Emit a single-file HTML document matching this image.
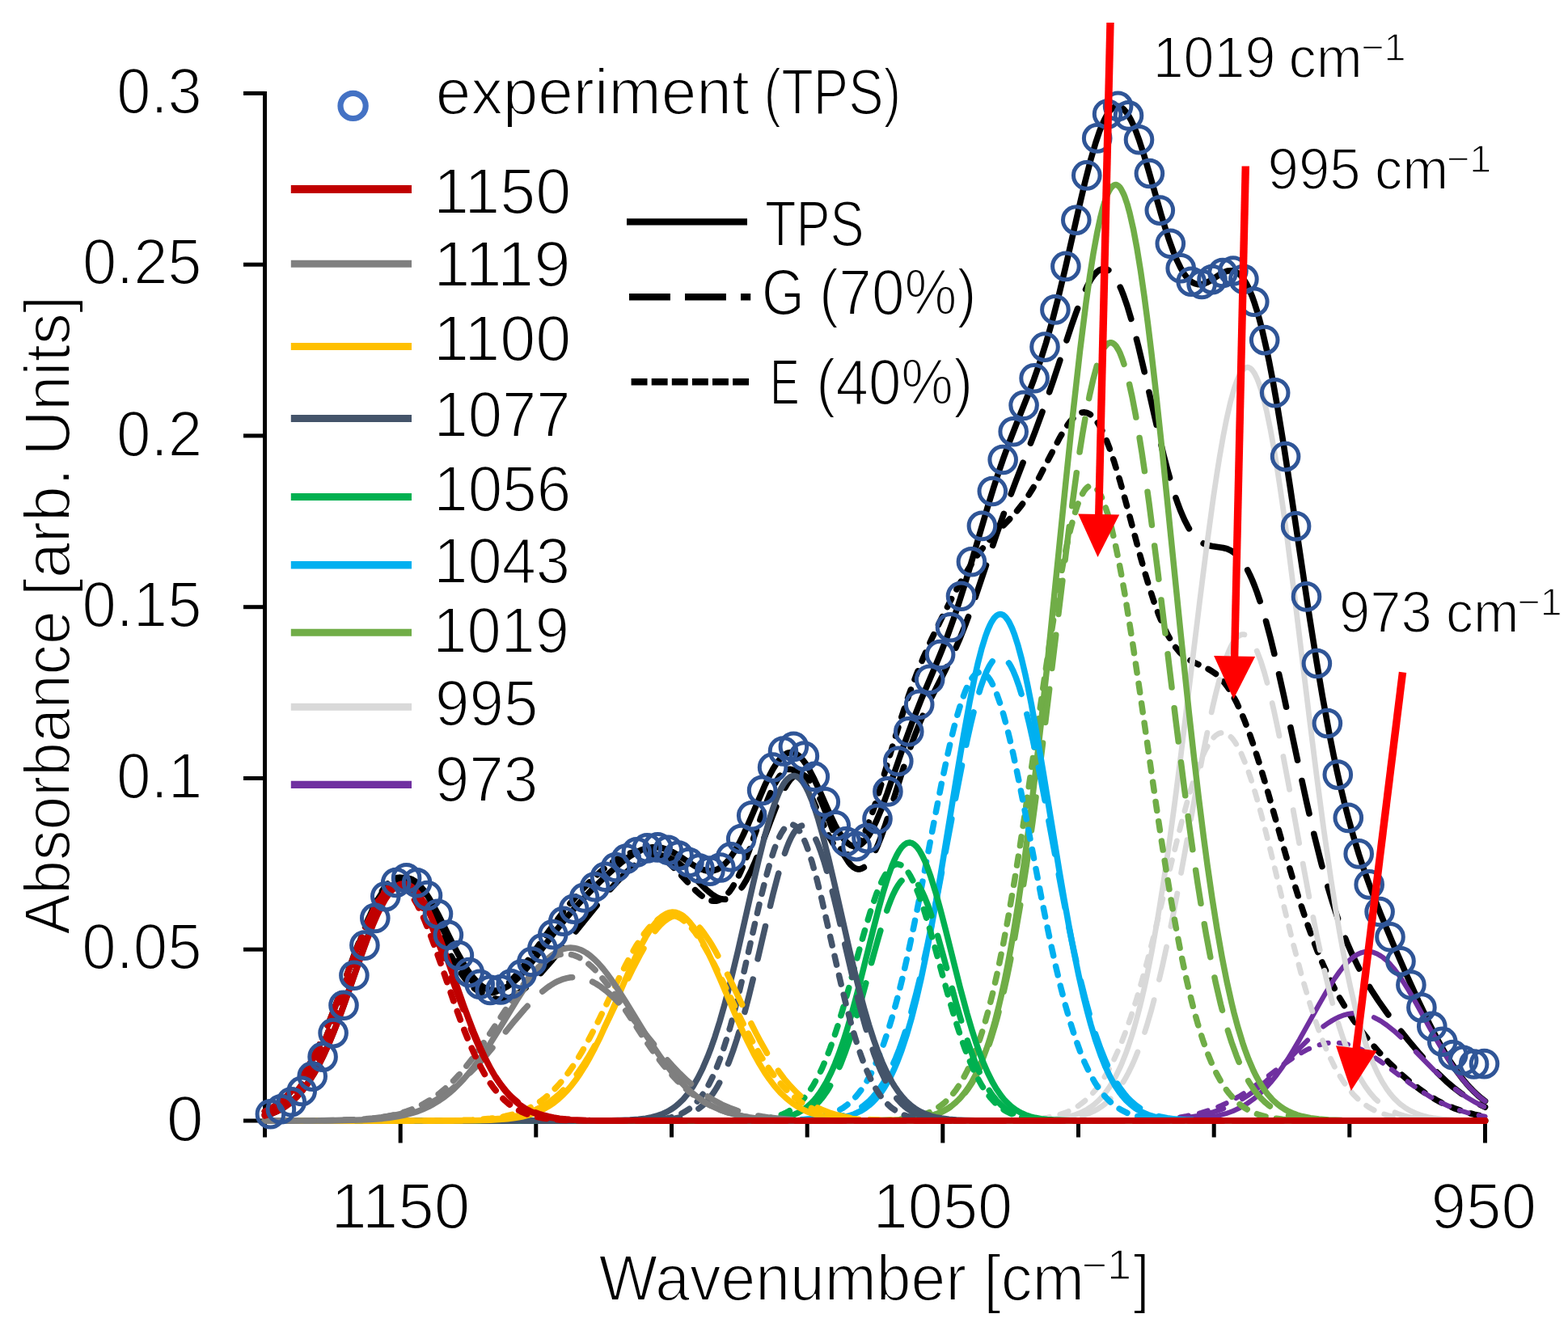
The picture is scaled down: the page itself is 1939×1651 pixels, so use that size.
<!DOCTYPE html>
<html lang="en"><head><meta charset="utf-8"><title>FTIR band decomposition</title>
<style>html,body{margin:0;padding:0;background:#fff}svg{display:block}</style></head>
<body>
<svg width="1939" height="1651" viewBox="0 0 1939 1651">
<rect width="1939" height="1651" fill="#fff"/>
<g stroke="#000" stroke-width="5" fill="none">
<path d="M327.5 112.9V1406.5"/>
<path d="M301 1386H1839"/>
<path d="M301 115.4H327.5"/>
<path d="M301 327.2H327.5"/>
<path d="M301 538.9H327.5"/>
<path d="M301 750.7H327.5"/>
<path d="M301 962.5H327.5"/>
<path d="M301 1174.2H327.5"/>
<path d="M495.2 1386V1413.5"/>
<path d="M662.8 1386V1406.5"/>
<path d="M830.5 1386V1406.5"/>
<path d="M998.2 1386V1406.5"/>
<path d="M1165.8 1386V1413.5"/>
<path d="M1333.5 1386V1406.5"/>
<path d="M1501.2 1386V1406.5"/>
<path d="M1668.8 1386V1406.5"/>
<path d="M1836.5 1386V1413.5"/>
</g>
<g fill="none" stroke-linecap="round" stroke-linejoin="round" stroke-width="7.5">
<g stroke="#000" stroke-width="7.6">
<path d="M327.5 1379.9L336.5 1376.9L341 1375L345.5 1372.8L353 1368.2L357.5 1365L360.5 1362.5L365 1358.4L368 1355.3L372.5 1350.3L375.5 1346.6L380 1340.5L383 1336.1L389 1326.4L395 1315.4L401 1303.2L407 1289.8L414.5 1271.4L420.5 1255.7L426.5 1239.1L446 1182.9L453.5 1161.9L461 1142.3L467 1128.1L471.5 1118.5L474.5 1112.7L479 1104.9L482 1100.4L486.5 1094.7L489.5 1091.7L492.5 1089.3L495.5 1087.5L498.5 1086.4L501.5 1085.9L504.5 1086L507.5 1086.8L510.5 1088.1L513.5 1090L516.5 1092.5L521 1097.3L524 1101L527 1105.2L530 1109.8L534.5 1117.4L542 1131.3L558.5 1164.5L566 1179L573.5 1192.2L578 1199.3L581 1203.6L585.5 1209.4L590 1214.3L594.5 1218.4L597.5 1220.5L600.5 1222.3L605 1224.1L609.5 1225L614 1225L617 1224.5L620 1223.6L623 1222.4L627.5 1220L633.5 1215.7L636.5 1213.1L641 1208.9L648.5 1200.8L656 1191.8L663.5 1182.3L686 1152.8L698 1137.8L710 1123.8L722 1110.7L731 1101.3L741.5 1090.9L750.5 1082.3L759.5 1074.2L767 1067.8L774.5 1062L780.5 1057.9L786.5 1054.3L791 1052.1L794 1050.8L798.5 1049.3L801.5 1048.6L806 1047.9L809 1047.7L812 1047.8L816.5 1048.3L819.5 1049L824 1050.3L827 1051.5L831.5 1053.6L839 1057.9L854 1067.8L860 1071.4L866 1074.4L870.5 1076L873.5 1076.7L876.5 1077.1L879.5 1077L882.5 1076.6L885.5 1075.7L888.5 1074.4L893 1071.4L897.5 1067.3L900.5 1064L903.5 1060.1L908 1053.4L914 1042.9L918.5 1033.9L924.5 1020.9L945.5 971.9L951.5 959.3L956 950.9L960.5 943.8L965 938L968 935.1L969.5 933.8L972.5 932L974 931.3L977 930.6L978.5 930.5L981.5 931L984.5 932.3L987.5 934.3L990.5 937.1L993.5 940.6L996.5 944.8L1001 952.2L1007 963.8L1013 976.8L1026.5 1007.5L1032.5 1020L1035.5 1025.6L1038.5 1030.7L1041.5 1035.2L1044.5 1039L1047.5 1042.1L1049 1043.4L1052 1045.4L1055 1046.5L1058 1046.7L1061 1046.1L1064 1044.7L1067 1042.3L1070 1039.2L1074.5 1033L1079 1025.2L1083.5 1015.9L1089.5 1001.6L1097 981.5L1118 920.8L1128.5 892.1L1139 865.6L1157 823L1164.5 804.8L1172 785.4L1179.5 764.5L1185.5 746.6L1193 722.8L1200.5 697.9L1221.5 626.4L1229 602.1L1235 583.7L1241 566.3L1248.5 545.9L1256 526.6L1271 489L1278.5 469.3L1286 447.8L1293.5 424.1L1301 397.8L1308.5 368.8L1317.5 331.1L1334 258.1L1341.5 226.1L1349 196.7L1355 176.2L1359.5 162.9L1362.5 155.2L1365.5 148.5L1368.5 142.8L1371.5 138.3L1373 136.4L1376 133.6L1377.5 132.6L1379 131.9L1380.5 131.5L1382 131.3L1383.5 131.5L1385 131.9L1386.5 132.7L1389.5 135L1392.5 138.4L1395.5 142.9L1398.5 148.4L1401.5 154.7L1404.5 162L1409 174.3L1415 192.8L1421 213.1L1436 265.7L1440.5 280.7L1445 294.7L1451 311.4L1455.5 322.2L1460 331.4L1464.5 338.9L1466 341L1469 344.6L1470.5 346.1L1473.5 348.6L1475 349.5L1478 350.9L1481 351.6L1484 351.8L1485.5 351.6L1488.5 350.9L1493 349.1L1497.5 346.6L1509.5 338.8L1512.5 337.2L1515.5 335.9L1518.5 335L1521.5 334.7L1524.5 334.9L1526 335.3L1529 336.5L1532 338.6L1535 341.6L1538 345.4L1541 350.3L1544 356.1L1548.5 366.8L1551.5 375.3L1554.5 384.8L1557.5 395.3L1560.5 406.9L1566.5 433.1L1569.5 447.6L1574 471L1580 504.9L1587.5 550.9L1595 599.8L1619 760.8L1628 817.7L1635.5 862L1644.5 910.8L1649 933.2L1653.5 954.4L1658 974.3L1662.5 992.9L1667 1010.4L1673 1032.1L1680.5 1056.9L1688 1079.4L1697 1104.2L1707.5 1131L1721 1163.4L1739 1204.8L1754 1237.9L1767.5 1266L1776.5 1283.5L1785.5 1299.7L1794.5 1314.4L1802 1325.5L1809.5 1335.4L1814 1340.7L1818.5 1345.7L1823 1350.3L1827.5 1354.5L1832 1358.3L1836.5 1361.7"/>
<path d="M327.5 1374.5L335 1370.7L342.5 1365.9L350 1359.9L356 1354.2L360.5 1349.3L363.5 1345.8L369.5 1337.8L375.5 1328.9L381.5 1318.8L387.5 1307.6L393.5 1295.3L399.5 1281.9L405.5 1267.6L411.5 1252.5L417.5 1236.7L437 1183.3L444.5 1163.3L452 1144.5L459.5 1127.5L464 1118.4L468.5 1110.2L473 1103.1L476 1099L480.5 1093.8L483.5 1091L488 1087.8L491 1086.4L494 1085.6L495.5 1085.5L498.5 1085.5L501.5 1086.1L503 1086.6L506 1088L509 1090L513.5 1093.8L516.5 1097L521 1102.6L524 1106.8L528.5 1113.7L536 1126.7L543.5 1140.9L561.5 1176.2L570.5 1192.6L575 1200L579.5 1206.9L584 1213.1L588.5 1218.7L593 1223.5L596 1226.2L600.5 1229.7L603.5 1231.6L606.5 1233.1L611 1234.8L615.5 1235.7L620 1235.9L624.5 1235.4L629 1234.2L633.5 1232.5L638 1230.1L642.5 1227.3L648.5 1222.9L653 1219.1L659 1213.5L669.5 1202.6L683 1187.2L698 1169.1L741.5 1115.4L753.5 1101.2L762.5 1091.1L773 1080.3L777.5 1076.1L782 1072.2L786.5 1068.7L791 1065.6L795.5 1063L798.5 1061.6L803 1059.8L806 1058.9L810.5 1058.1L813.5 1057.9L818 1058.1L821 1058.6L824 1059.4L828.5 1061.1L831.5 1062.5L836 1065.2L840.5 1068.4L845 1072.1L852.5 1079.1L872 1098.8L878 1104.1L881 1106.4L884 1108.3L887 1110L890 1111.2L893 1111.9L896 1112.2L899 1111.9L902 1111.1L905 1109.7L908 1107.7L912.5 1103.5L915.5 1099.9L918.5 1095.7L923 1088.3L929 1076.4L933.5 1066.2L938 1055.1L954.5 1011.1L959 999.6L965 985.5L969.5 976.3L974 968.7L977 964.6L978.5 962.9L981.5 960L983 959L986 957.5L989 957.1L990.5 957.2L993.5 958.2L996.5 960.1L998 961.4L1001 964.7L1004 968.8L1007 973.7L1011.5 982.4L1016 992.2L1020.5 1003L1032.5 1033.1L1038.5 1047L1041.5 1053.2L1044.5 1058.8L1049 1065.8L1052 1069.5L1055 1072.2L1058 1074L1059.5 1074.6L1061 1074.9L1062.5 1074.9L1064 1074.7L1065.5 1074.2L1068.5 1072.5L1071.5 1069.8L1073 1068.1L1076 1063.9L1080.5 1056L1085 1046.3L1089.5 1035.1L1094 1022.6L1098.5 1009.1L1115 956.7L1122.5 933.8L1130 912.7L1137.5 893.6L1143.5 879.8L1149.5 867L1169 828.8L1178 810.2L1187 789.7L1194.5 770.8L1200.5 754.6L1206.5 737.6L1232 661.8L1244 627.6L1256 595.6L1280 533.9L1292 501.2L1302.5 470.7L1325 402.8L1331 385.8L1335.5 374L1340 363.3L1344.5 353.8L1349 345.7L1352 341.3L1355 337.8L1356.5 336.3L1359.5 334L1362.5 332.7L1364 332.4L1365.5 332.3L1367 332.5L1368.5 332.9L1370 333.6L1373 335.7L1376 338.9L1379 343.1L1382 348.3L1386.5 357.9L1389.5 365.5L1394 378.5L1400 398.6L1407.5 427.4L1415 459L1433 538L1439 562.8L1443.5 580.1L1449.5 601.4L1454 615.6L1457 624.2L1460 632.1L1464.5 642.5L1469 651.3L1472 656.2L1475 660.5L1479.5 665.7L1482.5 668.4L1485.5 670.6L1490 673L1494.5 674.5L1499 675.5L1512.5 677.5L1515.5 678.2L1518.5 679.2L1521.5 680.6L1524.5 682.4L1527.5 684.6L1530.5 687.4L1533.5 690.8L1536.5 694.7L1539.5 699.4L1542.5 704.6L1545.5 710.6L1548.5 717.3L1551.5 724.7L1554.5 732.8L1559 746.1L1565 766.3L1571 788.8L1577 813.3L1587.5 860L1607 951.8L1616 993.1L1625 1032.1L1634 1068L1638.5 1084.6L1643 1100.3L1647.5 1115.1L1652 1128.9L1656.5 1141.9L1661 1153.9L1665.5 1165.2L1671.5 1179L1679 1194.6L1686.5 1208.7L1695.5 1223.8L1704.5 1237.6L1715 1252.5L1728.5 1270.3L1742 1287.1L1755.5 1303.1L1767.5 1316.5L1778 1327.3L1788.5 1337.3L1797.5 1345L1808 1353L1817 1358.9L1826 1364.1L1836.5 1369.2" stroke-dasharray="41.5 25.9"/>
<path d="M327.5 1378.3L332 1376.7L336.5 1374.7L344 1370.6L348.5 1367.5L351.5 1365.3L356 1361.5L359 1358.6L363.5 1353.9L366.5 1350.4L372.5 1342.6L378.5 1333.5L384.5 1323.2L390.5 1311.6L396.5 1298.7L402.5 1284.6L408.5 1269.3L419 1240.3L438.5 1182.9L446 1161.4L453.5 1141.4L459.5 1126.9L464 1117.2L467 1111.3L471.5 1103.5L474.5 1099L479 1093.4L482 1090.5L485 1088.2L488 1086.6L491 1085.6L494 1085.3L497 1085.7L500 1086.7L503 1088.3L506 1090.5L509 1093.3L512 1096.6L515 1100.4L518 1104.7L521 1109.4L525.5 1117.2L534.5 1134.6L549.5 1165.8L557 1180.7L564.5 1194.4L569 1201.7L572 1206.2L576.5 1212.2L581 1217.3L585.5 1221.5L588.5 1223.7L591.5 1225.6L596 1227.5L600.5 1228.5L605 1228.6L608 1228.1L612.5 1226.8L615.5 1225.4L620 1222.8L623 1220.6L627.5 1216.9L632 1212.6L636.5 1207.8L644 1199L651.5 1189.3L681.5 1147.7L696.5 1127.8L705.5 1116.7L713 1107.9L720.5 1099.6L728 1091.8L735.5 1084.4L741.5 1079L747.5 1073.9L753.5 1069.2L759.5 1064.9L764 1062.1L770 1058.8L774.5 1056.7L779 1055L783.5 1053.8L788 1052.9L792.5 1052.6L797 1052.7L801.5 1053.4L806 1054.6L810.5 1056.4L815 1058.6L819.5 1061.5L824 1064.8L828.5 1068.6L837.5 1077.2L854 1095L860 1101.1L866 1106.5L870.5 1109.8L873.5 1111.6L876.5 1113L879.5 1113.9L882.5 1114.3L885.5 1114.2L888.5 1113.5L891.5 1112.3L894.5 1110.4L897.5 1107.8L899 1106.3L902 1102.7L905 1098.5L909.5 1091L912.5 1085.3L915.5 1078.9L920 1068.5L926 1053L941 1010.9L947 994.7L951.5 983.6L956 973.7L960.5 965.3L963.5 960.7L965 958.8L968 955.5L969.5 954.2L972.5 952.3L975.5 951.4L977 951.3L978.5 951.5L981.5 952.6L983 953.4L986 955.9L989 959.2L992 963.3L996.5 970.9L1002.5 983L1017.5 1017.7L1023.5 1030.8L1026.5 1036.7L1029.5 1042L1034 1048.7L1037 1052.1L1040 1054.7L1043 1056.4L1044.5 1056.8L1046 1057.1L1047.5 1057.1L1049 1056.8L1052 1055.5L1055 1053.3L1056.5 1051.8L1059.5 1048.1L1062.5 1043.5L1065.5 1038L1070 1028.3L1076 1012.9L1080.5 999.9L1086.5 981L1106 915.3L1115 886.2L1124 859.3L1133 835L1142 812.8L1152.5 789.3L1164.5 764.4L1176.5 740.8L1185.5 724.1L1194.5 708.5L1203.5 694.1L1211 683.4L1218.5 673.8L1226 665.1L1232 658.8L1248.5 642L1256 633.8L1263.5 624.5L1271 613.9L1277 604.4L1284.5 591.3L1310 542.2L1316 531.9L1320.5 525.1L1323.5 521.1L1326.5 517.7L1331 513.6L1334 511.6L1335.5 510.9L1338.5 510.1L1340 509.9L1343 510.2L1344.5 510.6L1347.5 512.1L1350.5 514.4L1352 515.8L1355 519.3L1358 523.7L1362.5 531.7L1367 541.4L1371.5 552.8L1377.5 570.2L1385 594.9L1392.5 621.9L1410.5 689.3L1416.5 710.5L1421 725.6L1427 744.1L1433 760.6L1439 774.9L1443.5 784.1L1448 792.1L1451 796.8L1454 800.9L1458.5 806.2L1461.5 809.2L1464.5 811.8L1469 815L1473.5 817.7L1478 819.9L1491.5 826L1497.5 829.3L1503.5 833.5L1506.5 836.1L1509.5 839L1514 844.2L1517 848.1L1520 852.5L1523 857.3L1529 868.4L1535 881.4L1539.5 892.3L1545.5 908.3L1550 921.3L1556 939.8L1566.5 974.7L1589 1053.8L1598 1084.5L1607 1113.7L1616 1140.8L1625 1165.6L1629.5 1177.1L1635.5 1191.4L1640 1201.5L1646 1214.1L1650.5 1222.9L1656.5 1233.9L1665.5 1249L1674.5 1262.6L1683.5 1274.9L1694 1288.1L1706 1301.9L1718 1314.5L1731.5 1327.4L1743.5 1337.8L1755.5 1347L1766 1354.2L1776.5 1360.5L1782.5 1363.7L1788.5 1366.5L1799 1370.9L1811 1375L1823 1378.2L1836.5 1380.8" stroke-dasharray="11.1 13.5"/>
</g>
<g stroke="#7030A0" stroke-width="6.2">
<path d="M327.5 1386L1409 1385.9L1440.5 1385.7L1463 1385L1479.5 1383.9L1487 1383.2L1494.5 1382.1L1505 1380.1L1515.5 1377.3L1524.5 1374.1L1533.5 1369.9L1538 1367.4L1542.5 1364.6L1550 1359.3L1557.5 1352.9L1565 1345.6L1571 1339L1578.5 1329.7L1586 1319.4L1593.5 1308.1L1599.5 1298.4L1607 1285.6L1631 1242.4L1640 1226.8L1649 1212.3L1656.5 1201.6L1661 1195.9L1665.5 1190.9L1670 1186.5L1674.5 1182.9L1679 1180.1L1683.5 1178.2L1688 1177L1691 1176.8L1694 1176.9L1698.5 1177.8L1703 1179.6L1707.5 1182.2L1710.5 1184.3L1715 1188.2L1719.5 1192.9L1724 1198.2L1728.5 1204.1L1733 1210.6L1742 1224.9L1751 1240.4L1769 1273L1778 1288.8L1787 1303.9L1796 1317.7L1802 1326.2L1806.5 1332.1L1811 1337.6L1815.5 1342.8L1820 1347.5L1826 1353.3L1830.5 1357.2L1836.5 1361.8"/>
<path d="M327.5 1386L1364 1386L1398.5 1385.8L1422.5 1385.3L1442 1384.5L1458.5 1383.2L1470.5 1381.8L1481 1380.1L1491.5 1377.8L1500.5 1375.3L1509.5 1372.3L1518.5 1368.6L1527.5 1364.2L1535 1360L1542.5 1355.2L1550 1349.9L1557.5 1344.1L1566.5 1336.4L1574 1329.6L1581.5 1322.3L1608.5 1294.9L1619 1284.6L1628 1276.4L1637 1269L1643 1264.8L1647.5 1262L1652 1259.5L1656.5 1257.4L1662.5 1255.2L1667 1254L1671.5 1253.3L1676 1253L1680.5 1253.2L1685 1253.7L1689.5 1254.7L1695.5 1256.7L1700 1258.7L1704.5 1261L1709 1263.7L1715 1267.9L1724 1275L1733 1283.1L1743.5 1293.3L1773.5 1323.7L1784 1333.6L1793 1341.5L1803.5 1349.8L1814 1357.1L1824.5 1363.3L1830.5 1366.4L1836.5 1369.2" stroke-dasharray="41.5 25.9"/>
<path d="M327.5 1386L1343 1386L1376 1385.8L1400 1385.5L1419.5 1384.9L1436 1383.9L1446.5 1383L1457 1381.8L1467.5 1380.1L1476.5 1378.3L1485.5 1376L1494.5 1373.3L1503.5 1370.1L1511 1366.9L1518.5 1363.4L1526 1359.4L1533.5 1355.1L1542.5 1349.4L1557.5 1338.9L1583 1319.7L1592 1313.2L1601 1307L1610 1301.6L1616 1298.3L1620.5 1296.2L1625 1294.4L1629.5 1292.8L1635.5 1291.1L1640 1290.2L1644.5 1289.7L1649 1289.4L1653.5 1289.5L1658 1290L1662.5 1290.7L1668.5 1292.2L1673 1293.6L1679 1296L1683.5 1298.1L1689.5 1301.3L1698.5 1306.8L1707.5 1312.9L1716.5 1319.4L1742 1338.6L1755.5 1348.1L1769 1356.6L1776.5 1360.8L1782.5 1363.9L1794.5 1369.3L1800.5 1371.6L1808 1374.1L1814 1375.9L1821.5 1377.8L1829 1379.5L1836.5 1380.8" stroke-dasharray="11.1 13.5"/>
</g>
<g stroke="#D9D9D9" stroke-width="6.8">
<path d="M327.5 1386L1205 1386L1245.5 1385.9L1269.5 1385.7L1286 1385.2L1299.5 1384.3L1310 1383.1L1320.5 1381.2L1329.5 1378.7L1337 1375.8L1344.5 1371.9L1349 1368.9L1352 1366.7L1358 1361.5L1362.5 1356.8L1367 1351.3L1371.5 1345.1L1376 1337.8L1380.5 1329.6L1385 1320.3L1388 1313.3L1392.5 1301.9L1395.5 1293.5L1400 1279.7L1403 1269.6L1407.5 1253.2L1410.5 1241.3L1415 1222.1L1418 1208.3L1424 1178.4L1431.5 1136.5L1439 1089.7L1446.5 1038.3L1452.5 994.3L1460 936.2L1484 740.2L1491.5 680.9L1500.5 614.8L1505 584.8L1508 566L1512.5 540.1L1517 517.2L1521.5 497.5L1526 481.2L1529 472.4L1530.5 468.7L1533.5 462.4L1535 460L1536.5 457.9L1538 456.3L1539.5 455.2L1541 454.5L1542.5 454.2L1544 454.4L1545.5 455.1L1547 456.1L1548.5 457.7L1550 459.7L1551.5 462.1L1554.5 468.2L1556 471.9L1559 480.6L1562 490.9L1566.5 509.3L1571 531.1L1575.5 555.9L1578.5 574L1583 603.2L1587.5 634.6L1592 667.9L1601 738.5L1619 886.3L1628 958.2L1637 1026.1L1646 1088.3L1652 1126.3L1656.5 1152.7L1661 1177.3L1665.5 1200.2L1670 1221.2L1676 1246.6L1680.5 1263.6L1686.5 1283.8L1691 1297.2L1697 1312.8L1703 1326.2L1709 1337.5L1715 1347L1718 1351.1L1722.5 1356.6L1725.5 1359.8L1730 1364.1L1733 1366.6L1737.5 1369.8L1740.5 1371.7L1745 1374.2L1752.5 1377.5L1757 1379.1L1761.5 1380.4L1766 1381.5L1772 1382.6L1784 1384.1L1797.5 1385.1L1814 1385.6L1836.5 1385.9"/>
<path d="M327.5 1386L1209.5 1386L1272.5 1385.8L1289 1385.5L1301 1385L1313 1384.2L1322 1383.1L1331 1381.5L1338.5 1379.7L1346 1377.1L1352 1374.5L1358 1371.2L1362.5 1368.2L1367 1364.7L1371.5 1360.6L1376 1355.9L1380.5 1350.5L1385 1344.4L1388 1339.8L1392.5 1332.2L1395.5 1326.5L1400 1317.3L1403 1310.5L1407.5 1299.4L1410.5 1291.4L1415 1278.3L1418 1268.9L1424 1248.5L1431.5 1219.8L1437.5 1194.4L1445 1159.8L1451 1130.1L1458.5 1090.9L1479.5 975.5L1488.5 927.6L1496 890.7L1500.5 870.3L1503.5 857.6L1508 840.2L1512.5 824.8L1517 811.7L1520 804.3L1523 798L1524.5 795.3L1527.5 790.8L1529 789L1532 786.3L1533.5 785.4L1535 784.9L1536.5 784.6L1538 784.7L1539.5 785L1541 785.7L1542.5 786.7L1544 788L1547 791.5L1548.5 793.8L1551.5 799.1L1554.5 805.6L1559 817.4L1563.5 831.6L1568 848L1571 860L1575.5 879.5L1580 900.5L1584.5 922.9L1593.5 970.4L1611.5 1069.6L1619 1109.8L1628 1155.3L1637 1196.9L1643 1222.1L1647.5 1239.6L1652 1255.8L1656.5 1270.7L1661 1284.5L1667 1300.9L1671.5 1311.8L1677.5 1324.7L1682 1333.2L1688 1343L1694 1351.3L1700 1358.2L1706 1363.9L1709 1366.4L1713.5 1369.6L1716.5 1371.5L1721 1374L1728.5 1377.4L1736 1379.8L1745 1382L1754 1383.4L1764.5 1384.5L1776.5 1385.2L1790 1385.6L1836.5 1386" stroke-dasharray="41.5 25.9"/>
<path d="M327.5 1386L1169 1386L1233.5 1385.8L1251.5 1385.5L1265 1385.1L1275.5 1384.4L1286 1383.4L1295 1382.1L1302.5 1380.6L1310 1378.6L1317.5 1376L1323.5 1373.4L1328 1371L1332.5 1368.3L1337 1365.1L1341.5 1361.5L1346 1357.4L1350.5 1352.7L1355 1347.5L1359.5 1341.6L1362.5 1337.2L1367 1330.2L1370 1325L1374.5 1316.6L1377.5 1310.6L1385 1293.8L1391 1278.6L1398.5 1257.4L1406 1233.7L1413.5 1207.8L1419.5 1185.7L1427 1156.4L1451 1057.4L1460 1021.4L1469 988.2L1476.5 963.6L1481 950.5L1485.5 938.9L1490 928.9L1494.5 920.6L1499 914.1L1502 910.8L1503.5 909.5L1506.5 907.5L1508 906.8L1511 906.2L1514 906.4L1515.5 906.8L1518.5 908.4L1520 909.5L1523 912.3L1524.5 914.1L1527.5 918.2L1530.5 923.2L1535 932.1L1539.5 942.7L1544 954.8L1547 963.7L1551.5 978L1556 993.6L1560.5 1010.1L1571 1051.4L1590.5 1132.2L1599.5 1168.4L1610 1207.9L1619 1238.7L1625 1257.4L1629.5 1270.5L1634 1282.6L1640 1297.4L1644.5 1307.4L1650.5 1319.5L1655 1327.7L1661 1337.3L1667 1345.6L1673 1352.8L1679 1358.9L1682 1361.5L1686.5 1365.1L1692.5 1369.2L1700 1373.4L1707.5 1376.6L1716.5 1379.5L1725.5 1381.6L1734.5 1383.1L1745 1384.2L1755.5 1384.9L1769 1385.5L1784 1385.8L1836.5 1386" stroke-dasharray="11.1 13.5"/>
</g>
<g stroke="#70AD47">
<path d="M327.5 1386L1041.5 1386L1082 1385.8L1106 1385.4L1122.5 1384.5L1136 1383.1L1146.5 1381.1L1152.5 1379.6L1157 1378.1L1161.5 1376.4L1166 1374.3L1170.5 1371.8L1173.5 1369.9L1178 1366.7L1181 1364.2L1185.5 1359.9L1188.5 1356.7L1193 1351.2L1197.5 1344.9L1202 1337.6L1206.5 1329.3L1211 1319.8L1215.5 1309L1220 1296.9L1223 1288L1227.5 1273.2L1230.5 1262.5L1235 1244.9L1238 1232.2L1242.5 1211.5L1245.5 1196.6L1250 1172.5L1253 1155.3L1259 1118.2L1266.5 1066.5L1274 1009.1L1281.5 946.5L1287.5 893L1295 822.6L1317.5 600.6L1326.5 514.2L1335.5 434L1343 374.2L1347.5 342.3L1352 313.7L1356.5 288.8L1361 267.9L1364 256.3L1365.5 251.3L1368.5 242.6L1370 239.1L1371.5 236L1373 233.5L1374.5 231.5L1376 230L1377.5 229L1379 228.5L1380.5 228.6L1382 229.2L1383.5 230.3L1385 231.9L1386.5 234.1L1389.5 240L1391 243.7L1394 252.6L1397 263.5L1401.5 283.3L1406 307.3L1410.5 335L1415 366.1L1419.5 400.4L1424 437.4L1428.5 476.7L1437.5 560.7L1460 782.9L1470.5 882.9L1476.5 936.9L1482.5 988L1488.5 1035.8L1493 1069.4L1499 1111L1505 1148.8L1511 1182.9L1517 1213.4L1523 1240.3L1526 1252.6L1530.5 1269.4L1536.5 1289.2L1539.5 1298L1544 1310.1L1550 1324L1553 1330.1L1557.5 1338.3L1560.5 1343.2L1565 1349.8L1568 1353.6L1572.5 1358.8L1575.5 1361.8L1580 1365.8L1584.5 1369.2L1589 1372.1L1593.5 1374.5L1599.5 1377.1L1604 1378.8L1610 1380.5L1620.5 1382.7L1631 1384L1643 1384.9L1659.5 1385.6L1700 1386L1836.5 1386"/>
<path d="M327.5 1386L1038.5 1386L1079 1385.9L1103 1385.5L1118 1384.8L1131.5 1383.6L1142 1382.1L1148 1380.8L1152.5 1379.6L1157 1378.2L1161.5 1376.5L1169 1372.9L1173.5 1370.2L1176.5 1368.1L1181 1364.6L1184 1361.9L1188.5 1357.4L1193 1352.1L1197.5 1346L1202 1339.1L1206.5 1331.1L1211 1322.1L1215.5 1311.9L1218.5 1304.4L1223 1292L1226 1283L1230.5 1268.1L1233.5 1257.4L1238 1240L1241 1227.4L1245.5 1207.1L1248.5 1192.6L1254.5 1161.2L1262 1117.6L1269.5 1069.1L1277 1016.2L1283 971L1290.5 911.7L1313 725.3L1322 653.2L1331 586.7L1335.5 556.4L1338.5 537.5L1343 511.4L1347.5 488.3L1352 468.4L1356.5 451.9L1359.5 442.9L1361 439.1L1364 432.6L1365.5 430.1L1367 427.9L1368.5 426.2L1370 424.9L1371.5 424.1L1373 423.8L1374.5 423.8L1376 424.3L1377.5 425.3L1379 426.7L1380.5 428.5L1383.5 433.5L1385 436.7L1388 444.3L1391 453.5L1395.5 470.3L1400 490.6L1404.5 514.1L1407.5 531.4L1412 559.5L1416.5 590L1421 622.6L1431.5 704.7L1454 891.2L1464.5 974.7L1470.5 1019.7L1475 1051.8L1481 1092.2L1485.5 1120.5L1491.5 1155.6L1497.5 1187.5L1503.5 1216.2L1509.5 1241.9L1515.5 1264.6L1518.5 1274.9L1523 1289L1529 1305.6L1532 1313L1536.5 1323.1L1542.5 1334.7L1545.5 1339.8L1550 1346.7L1553 1350.8L1557.5 1356.2L1560.5 1359.4L1565 1363.7L1568 1366.2L1572.5 1369.5L1577 1372.3L1581.5 1374.7L1586 1376.7L1592 1378.8L1596.5 1380.2L1602.5 1381.6L1613 1383.3L1623.5 1384.4L1635.5 1385.2L1652 1385.7L1692.5 1386L1836.5 1386" stroke-dasharray="41.5 25.9"/>
<path d="M327.5 1386L1023.5 1386L1062.5 1385.9L1085 1385.6L1101.5 1385L1113.5 1384.1L1124 1382.8L1134.5 1380.7L1143.5 1378L1151 1374.9L1155.5 1372.5L1158.5 1370.8L1164.5 1366.5L1169 1362.8L1173.5 1358.4L1178 1353.3L1182.5 1347.4L1187 1340.7L1191.5 1333L1196 1324.4L1199 1318L1203.5 1307.4L1206.5 1299.7L1211 1287.1L1214 1277.9L1218.5 1262.9L1221.5 1252.1L1227.5 1228.6L1233.5 1202.3L1241 1165.6L1247 1133.3L1254.5 1089.4L1260.5 1051.9L1268 1002.4L1290.5 846.2L1298 795.7L1307 739.3L1314.5 697.5L1319 675.3L1323.5 655.6L1328 638.6L1332.5 624.5L1335.5 616.9L1337 613.6L1340 608.2L1341.5 606L1343 604.2L1344.5 602.8L1346 601.7L1347.5 601.1L1349 600.8L1350.5 600.9L1352 601.4L1353.5 602.2L1355 603.5L1356.5 605.1L1358 607.1L1361 612.2L1362.5 615.3L1365.5 622.6L1370 636.2L1374.5 652.7L1379 672L1383.5 693.9L1386.5 709.7L1391 735.1L1400 791.1L1409 851.7L1430 997.6L1436 1037.5L1442 1075.8L1448 1112.1L1454 1145.9L1460 1177.3L1466 1205.9L1470.5 1225.6L1476.5 1249.5L1481 1265.6L1487 1285L1493 1301.8L1499 1316.4L1505 1328.9L1511 1339.6L1517 1348.5L1520 1352.4L1524.5 1357.6L1527.5 1360.7L1532 1364.8L1535 1367.2L1539.5 1370.3L1542.5 1372.1L1547 1374.5L1551.5 1376.6L1556 1378.3L1560.5 1379.7L1566.5 1381.2L1577 1383.1L1586 1384.2L1598 1385L1610 1385.5L1626.5 1385.8L1668.5 1386L1836.5 1386" stroke-dasharray="11.1 13.5"/>
</g>
<g stroke="#00B0F0">
<path d="M327.5 1386L942.5 1386L977 1385.9L998 1385.7L1011.5 1385.3L1023.5 1384.5L1032.5 1383.6L1041.5 1382.1L1049 1380.2L1056.5 1377.7L1064 1374.2L1070 1370.5L1074.5 1367.1L1079 1363.1L1083.5 1358.4L1086.5 1354.9L1091 1348.9L1094 1344.4L1098.5 1336.7L1101.5 1331.1L1106 1321.6L1109 1314.6L1115 1298.9L1121 1280.7L1127 1260L1133 1236.6L1139 1210.6L1145 1182L1151 1150.9L1157 1117.8L1163 1082.8L1184 954.2L1191.5 909.8L1199 868.6L1205 839L1209.5 819.2L1214 801.9L1218.5 787.3L1221.5 779.1L1224.5 772.4L1226 769.5L1229 764.8L1230.5 763.1L1232 761.6L1233.5 760.6L1235 759.9L1236.5 759.6L1238 759.7L1239.5 760.1L1241 760.9L1242.5 762.1L1244 763.7L1247 767.9L1248.5 770.6L1251.5 776.9L1254.5 784.6L1259 798.7L1263.5 815.5L1268 834.7L1271 848.8L1275.5 871.6L1283 913.1L1290.5 957.7L1310 1077.3L1316 1112.5L1322 1146L1328 1177.4L1334 1206.4L1340 1232.8L1344.5 1250.9L1349 1267.5L1355 1287.3L1361 1304.6L1367 1319.5L1373 1332.2L1379 1342.9L1385 1351.8L1388 1355.6L1392.5 1360.7L1398.5 1366.3L1404.5 1370.9L1407.5 1372.8L1412 1375.2L1419.5 1378.5L1427 1380.8L1436 1382.7L1446.5 1384.1L1458.5 1385.1L1478 1385.7L1509.5 1386L1836.5 1386"/>
<path d="M327.5 1386L929 1386L966.5 1385.9L987.5 1385.7L1002.5 1385.2L1014.5 1384.5L1025 1383.4L1034 1381.9L1041.5 1380.2L1049 1377.7L1056.5 1374.5L1062.5 1371.1L1067 1368.1L1071.5 1364.5L1076 1360.4L1079 1357.2L1083.5 1352L1086.5 1348L1091 1341.4L1094 1336.5L1098.5 1328.4L1101.5 1322.4L1107.5 1309L1112 1297.6L1115 1289.4L1121 1271.3L1127 1251L1133 1228.5L1139 1203.9L1146.5 1170.2L1152.5 1141.2L1160 1102.9L1181 990.4L1188.5 951.5L1196 915.3L1200.5 895.3L1203.5 882.8L1208 865.7L1212.5 850.6L1217 837.7L1220 830.5L1223 824.4L1224.5 821.8L1227.5 817.4L1229 815.7L1232 813.2L1233.5 812.4L1235 811.9L1236.5 811.7L1238 811.8L1239.5 812.3L1241 813L1244 815.4L1245.5 817.1L1248.5 821.4L1250 823.9L1253 829.9L1256 837.1L1260.5 849.8L1265 864.8L1269.5 881.8L1272.5 894.2L1277 914.1L1284.5 950.3L1292 989.1L1313 1101.6L1319 1132.5L1325 1161.9L1331 1189.6L1337 1215.4L1343 1239.1L1349 1260.6L1355 1279.9L1361 1297L1367 1311.9L1373 1324.9L1379 1336.1L1385 1345.5L1391 1353.5L1394 1357L1398.5 1361.6L1404.5 1366.8L1410.5 1371L1413.5 1372.8L1418 1375.1L1425.5 1378.2L1434.5 1380.9L1443.5 1382.7L1454 1384.1L1466 1385L1487 1385.7L1518.5 1386L1836.5 1386" stroke-dasharray="41.5 25.9"/>
<path d="M327.5 1386L911 1386L947 1385.9L968 1385.6L981.5 1385.2L993.5 1384.5L1004 1383.4L1013 1381.9L1020.5 1380L1028 1377.6L1035.5 1374.2L1041.5 1370.8L1046 1367.7L1050.5 1364L1055 1359.8L1058 1356.6L1062.5 1351.1L1065.5 1347.1L1071.5 1337.9L1076 1329.9L1079 1324L1085 1310.9L1089.5 1299.7L1092.5 1291.6L1098.5 1273.8L1104.5 1253.8L1110.5 1231.7L1116.5 1207.4L1124 1174.2L1130 1145.7L1136 1115.8L1157 1006L1164.5 968L1172 932.4L1176.5 912.8L1179.5 900.6L1184 883.8L1188.5 869L1193 856.5L1196 849.4L1199 843.4L1200.5 840.9L1203.5 836.6L1205 835L1208 832.5L1209.5 831.8L1211 831.3L1212.5 831.2L1214 831.3L1215.5 831.8L1217 832.6L1220 835L1221.5 836.7L1224.5 841L1226 843.5L1229 849.5L1232 856.6L1236.5 869.2L1241 884L1245.5 900.9L1248.5 913.1L1253 932.7L1260.5 968.3L1268 1006.4L1287.5 1108.5L1293.5 1138.7L1299.5 1167.5L1305.5 1194.7L1311.5 1220L1317.5 1243.2L1323.5 1264.3L1329.5 1283.1L1335.5 1299.8L1341.5 1314.5L1347.5 1327.1L1353.5 1338L1356.5 1342.8L1361 1349.3L1367 1356.6L1370 1359.8L1374.5 1364.1L1380.5 1368.8L1386.5 1372.6L1394 1376.4L1401.5 1379.2L1410.5 1381.5L1419.5 1383.2L1430 1384.4L1442 1385.2L1463 1385.8L1494.5 1386L1836.5 1386" stroke-dasharray="11.1 13.5"/>
</g>
<g stroke="#00B050">
<path d="M327.5 1386L875 1386L923 1385.8L935 1385.6L945.5 1385.2L953 1384.6L960.5 1383.8L966.5 1382.8L972.5 1381.5L978.5 1379.7L983 1377.9L987.5 1375.8L990.5 1374.1L995 1371.2L998 1368.9L1004 1363.4L1007 1360.2L1010 1356.6L1013 1352.6L1016 1348.2L1022 1338.1L1028 1326L1032.5 1315.7L1037 1304.2L1043 1287.1L1047.5 1272.9L1053.5 1252.5L1062.5 1218.9L1080.5 1147L1086.5 1123.8L1092.5 1102.3L1098.5 1083.2L1103 1070.8L1106 1063.6L1109 1057.4L1112 1052.1L1115 1047.9L1118 1044.9L1121 1042.9L1122.5 1042.4L1124 1042.1L1125.5 1042.1L1127 1042.5L1128.5 1043.1L1130 1044L1133 1046.6L1134.5 1048.4L1137.5 1052.7L1140.5 1058.1L1143.5 1064.4L1146.5 1071.7L1151 1084.3L1157 1103.6L1163 1125.2L1169 1148.4L1187 1220.3L1196 1253.8L1202 1274.1L1206.5 1288.2L1212.5 1305.2L1217 1316.6L1221.5 1326.8L1227.5 1338.7L1232 1346.4L1238 1355.1L1241 1358.9L1244 1362.2L1250 1367.9L1256 1372.5L1259 1374.3L1263.5 1376.7L1268 1378.7L1274 1380.8L1280 1382.3L1287.5 1383.6L1295 1384.5L1302.5 1385.1L1323.5 1385.8L1370 1386L1836.5 1386"/>
<path d="M327.5 1386L929 1385.9L950 1385.4L957.5 1385L965 1384.4L971 1383.6L977 1382.5L983 1381L987.5 1379.5L992 1377.7L995 1376.2L1001 1372.6L1007 1368L1010 1365.2L1013 1362.1L1016 1358.6L1019 1354.7L1022 1350.4L1025 1345.7L1031 1334.8L1035.5 1325.4L1040 1314.9L1044.5 1303.2L1049 1290.5L1055 1271.9L1064 1241L1080.5 1180.2L1086.5 1158.7L1092.5 1138.7L1098.5 1120.9L1101.5 1113.1L1104.5 1106.1L1107.5 1100L1110.5 1094.9L1113.5 1090.7L1116.5 1087.7L1119.5 1085.7L1121 1085.2L1122.5 1084.9L1124 1084.9L1125.5 1085.2L1127 1085.8L1128.5 1086.6L1131.5 1089.1L1134.5 1092.7L1137.5 1097.4L1140.5 1103L1143.5 1109.6L1148 1121L1154 1138.8L1160 1158.8L1166 1180.3L1182.5 1241.2L1191.5 1272L1197.5 1290.6L1202 1303.4L1206.5 1315L1211 1325.5L1215.5 1334.9L1221.5 1345.8L1226 1352.7L1229 1356.7L1232 1360.4L1235 1363.7L1238 1366.7L1244 1371.6L1250 1375.4L1256 1378.4L1260.5 1380.1L1266.5 1381.8L1272.5 1383.1L1278.5 1384L1286 1384.8L1293.5 1385.3L1313 1385.8L1358 1386L1836.5 1386" stroke-dasharray="41.5 25.9"/>
<path d="M327.5 1386L858.5 1386L906.5 1385.8L929 1385.2L936.5 1384.7L944 1383.9L951.5 1382.7L957.5 1381.4L963.5 1379.6L968 1377.9L972.5 1375.8L975.5 1374.2L981.5 1370.3L987.5 1365.3L993.5 1359.1L999.5 1351.6L1005.5 1342.5L1011.5 1331.6L1016 1322.4L1020.5 1312L1026.5 1296.6L1031 1283.9L1037 1265.5L1041.5 1250.6L1047.5 1229.8L1064 1169.7L1071.5 1143.3L1077.5 1123.8L1083.5 1106.4L1088 1095.1L1091 1088.6L1094 1082.9L1097 1078.1L1100 1074.3L1101.5 1072.7L1104.5 1070.4L1107.5 1069.1L1109 1068.8L1110.5 1068.8L1112 1069.1L1113.5 1069.6L1116.5 1071.4L1119.5 1074.2L1122.5 1078L1125.5 1082.7L1128.5 1088.4L1131.5 1094.9L1136 1106.1L1142 1123.4L1148 1142.9L1155.5 1169.3L1172 1229.4L1178 1250.3L1182.5 1265.1L1188.5 1283.6L1193 1296.3L1199 1311.7L1203.5 1322.1L1208 1331.4L1214 1342.3L1218.5 1349.3L1224.5 1357.3L1230.5 1363.8L1236.5 1369.1L1242.5 1373.2L1245.5 1375L1250 1377.2L1254.5 1379.1L1260.5 1381L1266.5 1382.4L1274 1383.7L1281.5 1384.5L1289 1385.1L1310 1385.8L1358 1386L1836.5 1386" stroke-dasharray="11.1 13.5"/>
</g>
<g stroke="#44546A">
<path d="M327.5 1386L717.5 1386L747.5 1385.9L767 1385.5L779 1385L789.5 1384.2L798.5 1383.1L806 1381.6L813.5 1379.6L819.5 1377.4L825.5 1374.6L831.5 1371L836 1367.7L839 1365.2L845 1359.3L851 1352.1L857 1343.5L863 1333.2L869 1321.1L875 1307.1L879.5 1295.3L884 1282.4L890 1263.4L896 1242.4L902 1219.6L912.5 1176.2L930.5 1096.7L938 1064.5L945.5 1034.7L951.5 1013.3L956 999.2L959 990.8L963.5 979.8L966.5 973.8L969.5 968.7L971 966.6L974 963.2L977 960.9L978.5 960.1L980 959.7L981.5 959.5L983 959.6L984.5 960L986 960.7L989 962.9L992 966.2L993.5 968.3L996.5 973.2L999.5 979.2L1004 990L1007 998.3L1011.5 1012.3L1017.5 1033.6L1025 1063.3L1032.5 1095.5L1050.5 1175L1056.5 1200.3L1062.5 1224.4L1068.5 1246.8L1074.5 1267.4L1080.5 1286L1085 1298.6L1091 1313.7L1097 1326.8L1103 1338.1L1106 1343L1110.5 1349.7L1116.5 1357.3L1119.5 1360.6L1124 1364.9L1127 1367.5L1131.5 1370.8L1134.5 1372.7L1139 1375.2L1145 1377.9L1151 1380L1157 1381.6L1164.5 1383L1173.5 1384.2L1182.5 1384.9L1193 1385.4L1206.5 1385.8L1259 1386L1836.5 1386"/>
<path d="M327.5 1386L753.5 1386L798.5 1385.7L810.5 1385.4L819.5 1384.9L827 1384.2L834.5 1383.1L840.5 1381.8L846.5 1380.1L852.5 1377.8L857 1375.6L863 1371.9L869 1367.1L872 1364.2L875 1361L878 1357.4L881 1353.3L884 1348.9L887 1344L891.5 1335.7L897.5 1322.9L902 1311.8L906.5 1299.5L911 1285.9L915.5 1271.1L921.5 1249.6L926 1232.2L932 1207.7L948.5 1136.7L956 1105.6L962 1082.7L968 1062.4L972.5 1049.4L975.5 1041.9L978.5 1035.5L981.5 1030.2L984.5 1026L987.5 1023.1L989 1022.1L990.5 1021.4L992 1021L993.5 1020.9L995 1021.2L996.5 1021.7L998 1022.6L999.5 1023.8L1002.5 1027.1L1005.5 1031.6L1008.5 1037.3L1011.5 1044L1014.5 1051.8L1019 1065.2L1025 1086L1031 1109.2L1037 1134.2L1053.5 1205.2L1059.5 1229.8L1064 1247.3L1070 1269L1074.5 1284L1080.5 1302.1L1085 1314.1L1089.5 1325L1095.5 1337.5L1098.5 1343L1101.5 1347.9L1104.5 1352.5L1107.5 1356.6L1110.5 1360.3L1113.5 1363.6L1116.5 1366.5L1119.5 1369.1L1122.5 1371.4L1127 1374.4L1130 1376.1L1134.5 1378.2L1139 1379.9L1145 1381.7L1151 1383L1157 1383.9L1164.5 1384.7L1172 1385.2L1194.5 1385.9L1242.5 1386L1836.5 1386" stroke-dasharray="41.5 25.9"/>
<path d="M327.5 1386L746 1386L789.5 1385.7L800 1385.4L809 1384.9L816.5 1384.2L824 1383.1L830 1381.8L836 1380L842 1377.5L846.5 1375.2L852.5 1371.2L855.5 1368.8L858.5 1366L861.5 1363L864.5 1359.5L867.5 1355.6L870.5 1351.3L873.5 1346.5L876.5 1341.2L881 1332.3L885.5 1322.1L890 1310.6L894.5 1297.8L899 1283.6L903.5 1268.2L909.5 1245.7L918.5 1208.6L935 1135.5L941 1109.7L947 1085.6L953 1064.2L957.5 1050.4L960.5 1042.4L963.5 1035.5L966.5 1029.8L969.5 1025.3L972.5 1022.1L974 1021L975.5 1020.2L977 1019.8L978.5 1019.6L980 1019.9L981.5 1020.4L983 1021.3L984.5 1022.5L987.5 1025.9L990.5 1030.6L993.5 1036.4L996.5 1043.5L999.5 1051.6L1004 1065.6L1010 1087.2L1016 1111.4L1037 1203.9L1043 1229.3L1047.5 1247.3L1053.5 1269.7L1058 1285L1064 1303.4L1068.5 1315.7L1073 1326.6L1079 1339.2L1082 1344.6L1085 1349.6L1088 1354.1L1091 1358.1L1094 1361.7L1097 1365L1100 1367.8L1103 1370.4L1109 1374.5L1112 1376.2L1116.5 1378.4L1121 1380.1L1127 1381.9L1133 1383.1L1139 1384.1L1146.5 1384.8L1154 1385.3L1176.5 1385.9L1836.5 1386" stroke-dasharray="11.1 13.5"/>
</g>
<g stroke="#FFC000">
<path d="M327.5 1386L555.5 1386L585.5 1385.7L606.5 1385.2L617 1384.6L627.5 1383.7L636.5 1382.6L645.5 1381L653 1379.2L660.5 1376.8L666.5 1374.4L672.5 1371.6L678.5 1368.1L684.5 1364.1L690.5 1359.3L696.5 1353.8L702.5 1347.4L707 1342.1L713 1334.2L717.5 1327.6L723.5 1318.1L729.5 1307.6L735.5 1296.2L741.5 1284.1L753.5 1257.7L774.5 1208.7L782 1191.7L791 1172.8L798.5 1158.9L803 1151.5L807.5 1145L812 1139.5L815 1136.4L819.5 1132.6L824 1129.9L827 1128.8L828.5 1128.4L831.5 1128.1L834.5 1128.2L836 1128.5L839 1129.5L843.5 1131.9L848 1135.4L852.5 1140L857 1145.7L861.5 1152.3L866 1159.7L873.5 1173.8L881 1189.5L890 1209.8L911 1258.8L918.5 1275.5L924.5 1288.1L932 1302.9L938 1313.8L945.5 1326.1L951.5 1334.8L957.5 1342.7L965 1351.2L972.5 1358.4L980 1364.4L987.5 1369.3L995 1373.3L999.5 1375.3L1004 1377L1013 1379.7L1019 1381.1L1026.5 1382.5L1034 1383.5L1043 1384.3L1062.5 1385.4L1091 1385.9L1836.5 1386"/>
<path d="M327.5 1386L542 1385.9L573.5 1385.7L596 1385L608 1384.3L618.5 1383.3L627.5 1382.2L636.5 1380.6L645.5 1378.4L653 1376.1L660.5 1373.2L666.5 1370.5L674 1366.3L680 1362.4L686 1357.8L692 1352.6L698 1346.8L704 1340.2L710 1332.9L714.5 1326.9L720.5 1318.2L726.5 1308.8L732.5 1298.7L740 1285.1L746 1273.5L753.5 1258.5L774.5 1214.6L783.5 1196.2L792.5 1179.1L797 1171.2L801.5 1163.8L807.5 1154.9L812 1149.1L816.5 1144L821 1139.8L825.5 1136.4L830 1134L834.5 1132.4L839 1131.9L843.5 1132.3L848 1133.6L852.5 1135.9L857 1139.1L861.5 1143.2L866 1148.1L870.5 1153.9L876.5 1162.6L881 1169.8L885.5 1177.7L894.5 1194.7L903.5 1212.9L927.5 1263L935 1277.9L941 1289.2L948.5 1302.5L956 1314.7L963.5 1325.8L969.5 1333.8L977 1342.7L984.5 1350.5L992 1357.2L999.5 1362.9L1007 1367.6L1011.5 1370.1L1016 1372.2L1025 1375.8L1035.5 1379L1043 1380.7L1050.5 1382.1L1059.5 1383.3L1068.5 1384.1L1079 1384.8L1089.5 1385.3L1119.5 1385.8L1185.5 1386L1836.5 1386" stroke-dasharray="41.5 25.9"/>
<path d="M327.5 1386L531.5 1385.9L563 1385.6L584 1385L596 1384.2L606.5 1383.3L615.5 1382.1L624.5 1380.5L633.5 1378.3L641 1376L648.5 1373.1L654.5 1370.3L662 1366.1L668 1362.2L674 1357.7L680 1352.6L686 1346.7L692 1340.2L698 1333L702.5 1327L708.5 1318.5L714.5 1309.2L720.5 1299.2L728 1285.7L734 1274.3L741.5 1259.5L764 1212.9L773 1194.8L782 1177.9L786.5 1170.1L791 1162.9L797 1154.2L801.5 1148.5L806 1143.6L810.5 1139.5L815 1136.2L819.5 1133.8L824 1132.4L828.5 1131.9L833 1132.3L837.5 1133.7L842 1136L846.5 1139.2L851 1143.3L855.5 1148.1L860 1153.8L866 1162.4L870.5 1169.6L875 1177.3L884 1194.1L893 1212.2L917 1261.8L924.5 1276.6L932 1290.6L939.5 1303.7L947 1315.7L954.5 1326.6L960.5 1334.5L968 1343.2L975.5 1350.9L983 1357.5L990.5 1363L998 1367.7L1007 1372.3L1016 1375.9L1026.5 1379L1034 1380.7L1041.5 1382L1050.5 1383.2L1059.5 1384.1L1070 1384.8L1082 1385.3L1112 1385.8L1178 1386L1836.5 1386" stroke-dasharray="11.1 13.5"/>
</g>
<g stroke="#7F7F7F">
<path d="M327.5 1386L393.5 1385.9L428 1385.6L453.5 1384.8L473 1383.4L482 1382.3L491 1380.9L500 1379.1L507.5 1377.2L515 1374.9L522.5 1372L530 1368.6L536 1365.4L543.5 1360.8L549.5 1356.6L555.5 1351.8L561.5 1346.6L567.5 1340.7L573.5 1334.4L579.5 1327.4L585.5 1320L596 1305.7L606.5 1290L617 1273.3L639.5 1236.4L650 1220L656 1211.2L660.5 1205L665 1199.2L669.5 1193.9L674 1189L678.5 1184.7L683 1181L687.5 1177.9L692 1175.4L696.5 1173.6L701 1172.5L705.5 1172.1L710 1172.4L714.5 1173.4L719 1175.1L722 1176.6L725 1178.4L729.5 1181.6L735.5 1186.8L740 1191.4L746 1198.3L750.5 1204L755 1210.2L764 1223.4L774.5 1240L800 1281.8L807.5 1293.5L815 1304.6L824 1317.1L831.5 1326.6L839 1335.2L846.5 1343L854 1349.9L863 1357.1L870.5 1362.3L879.5 1367.5L888.5 1371.7L897.5 1375.1L908 1378.2L918.5 1380.5L926 1381.8L935 1383L944 1383.9L954.5 1384.6L978.5 1385.5L1010 1385.9L1836.5 1386"/>
<path d="M327.5 1386L381.5 1385.9L414.5 1385.4L440 1384.6L461 1383L471.5 1381.8L480.5 1380.5L489.5 1378.8L497 1377.1L504.5 1375.1L512 1372.7L519.5 1369.9L527 1366.6L534.5 1362.9L540.5 1359.5L546.5 1355.7L552.5 1351.6L558.5 1347.2L564.5 1342.3L570.5 1337.1L578 1330.1L588.5 1319.3L600.5 1305.9L612.5 1291.7L636.5 1262.2L648.5 1248.2L659 1237L665 1231.2L669.5 1227.2L675.5 1222.3L680 1219.1L686 1215.4L690.5 1213.2L696.5 1210.8L701 1209.6L705.5 1208.8L710 1208.5L714.5 1208.7L720.5 1209.7L726.5 1211.5L732.5 1214.1L737 1216.5L743 1220.4L749 1225L755 1230.1L759.5 1234.4L765.5 1240.5L776 1252.1L786.5 1264.5L815 1299.3L824 1309.8L831.5 1318.1L840.5 1327.5L849.5 1336.1L858.5 1343.9L866 1349.7L875 1356L884 1361.4L893 1366.1L902 1370L911 1373.3L921.5 1376.5L932 1378.9L942.5 1380.8L951.5 1382.1L960.5 1383.1L981.5 1384.6L1007 1385.4L1041.5 1385.9L1836.5 1386" stroke-dasharray="41.5 25.9"/>
<path d="M327.5 1386L383 1385.9L416 1385.5L441.5 1384.5L452 1383.8L461 1383L470 1381.9L479 1380.5L488 1378.6L495.5 1376.7L503 1374.3L510.5 1371.5L518 1368.2L524 1365.1L531.5 1360.7L537.5 1356.6L543.5 1352.2L549.5 1347.2L555.5 1341.8L561.5 1335.8L567.5 1329.4L573.5 1322.5L584 1309.3L596 1292.8L606.5 1277.3L630.5 1240.9L641 1225.7L651.5 1211.9L656 1206.5L660.5 1201.5L666.5 1195.5L671 1191.6L675.5 1188.2L680 1185.3L686 1182.4L690.5 1180.9L695 1180L699.5 1179.7L704 1180.1L707 1180.7L710 1181.5L714.5 1183.3L720.5 1186.6L725 1189.8L731 1194.8L735.5 1199.1L741.5 1205.6L750.5 1216.6L761 1230.9L770 1244.2L797 1285L804.5 1295.9L812 1306.2L821 1317.9L828.5 1326.8L837.5 1336.5L845 1343.8L852.5 1350.3L861.5 1357.1L870.5 1362.9L879.5 1367.8L888.5 1371.8L899 1375.5L909.5 1378.4L920 1380.6L927.5 1381.8L936.5 1382.9L947 1383.9L957.5 1384.6L981.5 1385.5L1014.5 1385.9L1836.5 1386" stroke-dasharray="11.1 13.5"/>
</g>
<g stroke="#C00000" stroke-width="7.8">
<path d="M327.5 1379.9L336.5 1376.9L341 1375L345.5 1372.8L353 1368.3L357.5 1365L360.5 1362.5L365 1358.4L368 1355.4L374 1348.5L378.5 1342.7L381.5 1338.4L387.5 1329L393.5 1318.3L399.5 1306.5L405.5 1293.4L413 1275.4L419 1260L425 1243.7L446 1183.8L453.5 1163.2L461 1144L467 1130.2L471.5 1121L476 1112.9L480.5 1106.1L483.5 1102.2L488 1097.7L491 1095.5L494 1094L495.5 1093.4L498.5 1092.9L501.5 1093.1L503 1093.5L506 1094.7L509 1096.6L510.5 1097.8L513.5 1100.7L516.5 1104.2L521 1110.6L525.5 1118.3L530 1127.2L533 1133.7L537.5 1144.2L545 1163.4L552.5 1184.1L573.5 1244L579.5 1260.2L585.5 1275.7L593 1293.6L599 1306.7L606.5 1321.3L612.5 1331.6L618.5 1340.7L621.5 1344.8L626 1350.5L629 1353.9L633.5 1358.5L636.5 1361.3L641 1365L644 1367.3L648.5 1370.3L653 1372.8L657.5 1375.1L662 1376.9L666.5 1378.6L671 1379.9L677 1381.4L683 1382.5L690.5 1383.6L705.5 1384.9L725 1385.6L753.5 1385.9L1836.5 1386"/>
<path d="M327.5 1374.5L335 1370.7L341 1367L348.5 1361.3L354.5 1355.8L360.5 1349.4L366.5 1342L372.5 1333.6L378.5 1324.1L384.5 1313.5L390.5 1301.8L396.5 1289L402.5 1275.2L408.5 1260.6L414.5 1245.2L437 1184.6L444.5 1165L453.5 1143.3L461 1127.3L465.5 1119L470 1111.7L474.5 1105.5L477.5 1102.1L482 1098L485 1096L486.5 1095.3L489.5 1094.2L491 1093.9L494 1093.8L497 1094.3L498.5 1094.7L501.5 1096.2L503 1097.1L506 1099.4L510.5 1104L513.5 1107.7L518 1114.3L522.5 1122L527 1130.7L534.5 1147.1L542 1165.5L549.5 1185.1L570.5 1241.7L578 1261L584 1275.7L591.5 1292.7L597.5 1305.2L605 1319.2L611 1329.3L618.5 1340.2L626 1349.6L629 1352.9L633.5 1357.4L641 1363.9L645.5 1367.1L650 1370L654.5 1372.5L659 1374.6L663.5 1376.5L668 1378.1L672.5 1379.4L678.5 1380.9L684.5 1382.1L692 1383.3L699.5 1384.1L708.5 1384.8L729.5 1385.6L759.5 1385.9L1836.5 1386" stroke-dasharray="41.5 25.9"/>
<path d="M327.5 1378.3L335 1375.4L342.5 1371.5L347 1368.6L350 1366.5L356 1361.5L360.5 1357.2L363.5 1354L369.5 1346.7L375.5 1338.3L381.5 1328.6L387.5 1317.7L393.5 1305.5L399.5 1292L405.5 1277.4L411.5 1261.7L417.5 1245.2L438.5 1184.2L446 1163.2L453.5 1143.7L459.5 1129.8L464 1120.5L468.5 1112.5L473 1105.7L476 1102L479 1099L480.5 1097.7L483.5 1095.7L486.5 1094.4L488 1094L491 1093.8L494 1094.3L495.5 1094.8L498.5 1096.3L501.5 1098.6L506 1103.3L509 1107.2L513.5 1114.3L516.5 1119.7L521 1128.8L524 1135.5L528.5 1146.3L536 1166L543.5 1187.2L563 1243.9L569 1260.5L575 1276.3L582.5 1294.5L588.5 1307.7L594.5 1319.7L600.5 1330.4L606.5 1339.8L609.5 1344.1L614 1349.9L617 1353.5L621.5 1358.2L624.5 1361.1L629 1365L632 1367.2L636.5 1370.3L641 1372.9L645.5 1375.2L650 1377.1L654.5 1378.7L659 1380L665 1381.5L671 1382.6L678.5 1383.7L693.5 1385L713 1385.7L740 1385.9L1836.5 1386" stroke-dasharray="11.1 13.5"/>
</g>
</g>
<g fill="none" stroke="#2F5597" stroke-width="5.0">
<circle cx="1835.5" cy="1315.6" r="16.3"/>
<circle cx="1822.6" cy="1316.0" r="16.3"/>
<circle cx="1809.6" cy="1311.4" r="16.3"/>
<circle cx="1796.7" cy="1304.6" r="16.3"/>
<circle cx="1783.7" cy="1288.2" r="16.3"/>
<circle cx="1770.8" cy="1269.2" r="16.3"/>
<circle cx="1757.9" cy="1246.1" r="16.3"/>
<circle cx="1744.9" cy="1218.0" r="16.3"/>
<circle cx="1732.0" cy="1188.8" r="16.3"/>
<circle cx="1719.0" cy="1158.8" r="16.3"/>
<circle cx="1706.1" cy="1127.5" r="16.3"/>
<circle cx="1693.2" cy="1093.9" r="16.3"/>
<circle cx="1680.2" cy="1055.9" r="16.3"/>
<circle cx="1667.3" cy="1011.4" r="16.3"/>
<circle cx="1654.3" cy="958.1" r="16.3"/>
<circle cx="1641.4" cy="894.5" r="16.3"/>
<circle cx="1628.4" cy="820.5" r="16.3"/>
<circle cx="1615.5" cy="737.9" r="16.3"/>
<circle cx="1602.6" cy="650.7" r="16.3"/>
<circle cx="1589.6" cy="564.6" r="16.3"/>
<circle cx="1576.7" cy="485.8" r="16.3"/>
<circle cx="1563.7" cy="420.6" r="16.3"/>
<circle cx="1550.8" cy="373.2" r="16.3"/>
<circle cx="1537.9" cy="345.2" r="16.3"/>
<circle cx="1524.9" cy="335.0" r="16.3"/>
<circle cx="1512.0" cy="337.5" r="16.3"/>
<circle cx="1499.0" cy="345.6" r="16.3"/>
<circle cx="1486.1" cy="351.5" r="16.3"/>
<circle cx="1473.2" cy="348.3" r="16.3"/>
<circle cx="1460.2" cy="331.8" r="16.3"/>
<circle cx="1447.3" cy="301.3" r="16.3"/>
<circle cx="1434.3" cy="260.1" r="16.3"/>
<circle cx="1421.4" cy="214.5" r="16.3"/>
<circle cx="1408.5" cy="172.7" r="16.3"/>
<circle cx="1395.5" cy="142.9" r="16.3"/>
<circle cx="1382.6" cy="131.4" r="16.3"/>
<circle cx="1369.6" cy="141.0" r="16.3"/>
<circle cx="1356.7" cy="170.9" r="16.3"/>
<circle cx="1343.8" cy="216.9" r="16.3"/>
<circle cx="1330.8" cy="272.1" r="16.3"/>
<circle cx="1317.9" cy="329.4" r="16.3"/>
<circle cx="1304.9" cy="382.9" r="16.3"/>
<circle cx="1292.0" cy="429.1" r="16.3"/>
<circle cx="1279.1" cy="467.7" r="16.3"/>
<circle cx="1266.1" cy="501.3" r="16.3"/>
<circle cx="1253.2" cy="533.7" r="16.3"/>
<circle cx="1240.2" cy="568.5" r="16.3"/>
<circle cx="1227.3" cy="607.5" r="16.3"/>
<circle cx="1214.4" cy="650.4" r="16.3"/>
<circle cx="1201.4" cy="694.8" r="16.3"/>
<circle cx="1188.5" cy="737.3" r="16.3"/>
<circle cx="1175.5" cy="775.7" r="16.3"/>
<circle cx="1162.6" cy="809.5" r="16.3"/>
<circle cx="1149.7" cy="840.3" r="16.3"/>
<circle cx="1136.7" cy="871.2" r="16.3"/>
<circle cx="1123.8" cy="904.7" r="16.3"/>
<circle cx="1110.8" cy="941.4" r="16.3"/>
<circle cx="1097.9" cy="978.9" r="16.3"/>
<circle cx="1085.0" cy="1012.6" r="16.3"/>
<circle cx="1072.0" cy="1036.6" r="16.3"/>
<circle cx="1059.1" cy="1046.6" r="16.3"/>
<circle cx="1046.1" cy="1040.8" r="16.3"/>
<circle cx="1033.2" cy="1020.9" r="16.3"/>
<circle cx="1020.3" cy="991.8" r="16.3"/>
<circle cx="1007.3" cy="960.4" r="16.3"/>
<circle cx="994.4" cy="935.0" r="16.3"/>
<circle cx="981.4" cy="923.4" r="16.3"/>
<circle cx="968.5" cy="929.0" r="16.3"/>
<circle cx="955.6" cy="949.0" r="16.3"/>
<circle cx="942.6" cy="977.4" r="16.3"/>
<circle cx="929.7" cy="1008.7" r="16.3"/>
<circle cx="916.7" cy="1037.5" r="16.3"/>
<circle cx="903.8" cy="1059.7" r="16.3"/>
<circle cx="890.9" cy="1073.0" r="16.3"/>
<circle cx="877.9" cy="1077.1" r="16.3"/>
<circle cx="865.0" cy="1074.0" r="16.3"/>
<circle cx="852.0" cy="1066.5" r="16.3"/>
<circle cx="839.1" cy="1058.0" r="16.3"/>
<circle cx="826.2" cy="1051.2" r="16.3"/>
<circle cx="813.2" cy="1047.9" r="16.3"/>
<circle cx="800.3" cy="1048.9" r="16.3"/>
<circle cx="787.3" cy="1053.9" r="16.3"/>
<circle cx="774.4" cy="1062.1" r="16.3"/>
<circle cx="761.5" cy="1072.5" r="16.3"/>
<circle cx="748.5" cy="1084.2" r="16.3"/>
<circle cx="735.6" cy="1096.7" r="16.3"/>
<circle cx="722.6" cy="1110.0" r="16.3"/>
<circle cx="709.7" cy="1124.1" r="16.3"/>
<circle cx="696.8" cy="1139.3" r="16.3"/>
<circle cx="683.8" cy="1155.6" r="16.3"/>
<circle cx="670.9" cy="1172.6" r="16.3"/>
<circle cx="657.9" cy="1189.4" r="16.3"/>
<circle cx="645.0" cy="1204.7" r="16.3"/>
<circle cx="632.1" cy="1216.8" r="16.3"/>
<circle cx="619.1" cy="1223.9" r="16.3"/>
<circle cx="606.2" cy="1224.4" r="16.3"/>
<circle cx="593.2" cy="1217.3" r="16.3"/>
<circle cx="580.3" cy="1202.6" r="16.3"/>
<circle cx="567.4" cy="1181.5" r="16.3"/>
<circle cx="554.4" cy="1156.2" r="16.3"/>
<circle cx="541.5" cy="1130.3" r="16.3"/>
<circle cx="528.5" cy="1107.5" r="16.3"/>
<circle cx="515.6" cy="1091.7" r="16.3"/>
<circle cx="502.6" cy="1085.9" r="16.3"/>
<circle cx="489.7" cy="1091.5" r="16.3"/>
<circle cx="476.8" cy="1108.6" r="16.3"/>
<circle cx="463.8" cy="1135.4" r="16.3"/>
<circle cx="450.9" cy="1169.1" r="16.3"/>
<circle cx="437.9" cy="1206.2" r="16.3"/>
<circle cx="425.0" cy="1243.3" r="16.3"/>
<circle cx="412.1" cy="1277.6" r="16.3"/>
<circle cx="399.1" cy="1307.1" r="16.3"/>
<circle cx="386.2" cy="1331.1" r="16.3"/>
<circle cx="373.2" cy="1349.4" r="16.3"/>
<circle cx="360.3" cy="1362.7" r="16.3"/>
<circle cx="347.4" cy="1371.8" r="16.3"/>
<circle cx="334.4" cy="1377.7" r="16.3"/>
</g>
<path d="M1373.0 28.0L1358.7 638.0" stroke="#F00" stroke-width="9.4" fill="none"/><path d="M1357.5 689.0L1333.2 635.4L1384.2 636.6Z" fill="#F00"/>
<path d="M1540.3 205.5L1526.6 813.5" stroke="#F00" stroke-width="9.4" fill="none"/><path d="M1525.4 864.5L1501.1 810.9L1552.1 812.1Z" fill="#F00"/>
<path d="M1734.5 831.4L1677.0 1298.4" stroke="#F00" stroke-width="9.4" fill="none"/><path d="M1670.8 1349.0L1652.0 1293.3L1702.6 1299.5Z" fill="#F00"/>
<g fill="none">
<path d="M359.8 234.1H509" stroke="#C00000" stroke-width="10.0"/>
<path d="M359.8 326.3H509" stroke="#7F7F7F" stroke-width="9.0"/>
<path d="M359.8 428.4H509" stroke="#FFC000" stroke-width="9.0"/>
<path d="M359.8 517.5H509" stroke="#44546A" stroke-width="9.2"/>
<path d="M359.8 614.4H509" stroke="#00B050" stroke-width="9.0"/>
<path d="M359.8 698.8H509" stroke="#00B0F0" stroke-width="9.4"/>
<path d="M359.8 782.3H509" stroke="#70AD47" stroke-width="9.0"/>
<path d="M359.8 874.3H509" stroke="#D9D9D9" stroke-width="9.0"/>
<path d="M359.8 970.4H509" stroke="#7030A0" stroke-width="9.2"/>
<circle cx="436.6" cy="130.9" r="15.6" stroke="#4472C4" stroke-width="7.2"/>
<g stroke="#000" stroke-width="8.4">
<path d="M775 274.4H924"/>
<path d="M778 367.2H928.2" stroke-dasharray="50.9 18.1"/>
<path d="M780.6 472.2H926" stroke-dasharray="19.9 5.2"/>
</g></g>
<g font-family="'Liberation Sans',sans-serif" fill="#000" stroke="#fff" stroke-linejoin="round">
<text x="144.3" y="139.6" font-size="79.5" textLength="105.3" lengthAdjust="spacingAndGlyphs" stroke-width="2.0" xml:space="preserve">0.3</text>
<text x="101.9" y="351.4" font-size="79.5" textLength="147.6" lengthAdjust="spacingAndGlyphs" stroke-width="2.0" xml:space="preserve">0.25</text>
<text x="144.0" y="563.6" font-size="79.5" textLength="106.1" lengthAdjust="spacingAndGlyphs" stroke-width="2.0" xml:space="preserve">0.2</text>
<text x="101.5" y="774.5" font-size="79.5" textLength="147.9" lengthAdjust="spacingAndGlyphs" stroke-width="2.0" xml:space="preserve">0.15</text>
<text x="143.9" y="987.1" font-size="79.5" textLength="106.3" lengthAdjust="spacingAndGlyphs" stroke-width="2.0" xml:space="preserve">0.1</text>
<text x="101.3" y="1198.1" font-size="79.5" textLength="148.3" lengthAdjust="spacingAndGlyphs" stroke-width="2.0" xml:space="preserve">0.05</text>
<text x="205.8" y="1410.5" font-size="79.5" textLength="45.9" lengthAdjust="spacingAndGlyphs" stroke-width="2.0" xml:space="preserve">0</text>
<text x="409.2" y="1519.4" font-size="79.5" textLength="172.2" lengthAdjust="spacingAndGlyphs" stroke-width="2.0" xml:space="preserve">1150</text>
<text x="1079.5" y="1519.4" font-size="79.5" textLength="172.8" lengthAdjust="spacingAndGlyphs" stroke-width="2.0" xml:space="preserve">1050</text>
<text x="1769.5" y="1519.4" font-size="79.5" textLength="130.5" lengthAdjust="spacingAndGlyphs" stroke-width="2.0" xml:space="preserve">950</text>
<text x="740.6" y="1608.0" font-size="79.5" textLength="454.4" lengthAdjust="spacingAndGlyphs" stroke-width="2.0" xml:space="preserve">Wavenumber</text>
<text x="1216.3" y="1608.0" font-size="79.5" textLength="124.9" lengthAdjust="spacingAndGlyphs" stroke-width="2.0" xml:space="preserve">[cm</text>
<text x="1337.9" y="1582.1" font-size="51.2" textLength="61.1" lengthAdjust="spacingAndGlyphs" stroke-width="1.3" xml:space="preserve">−1</text>
<text x="1401.4" y="1608.0" font-size="79.5" textLength="20.0" lengthAdjust="spacingAndGlyphs" stroke-width="2.0" xml:space="preserve">]</text>
<text x="0" y="0" font-size="79.5" textLength="400.4" lengthAdjust="spacingAndGlyphs" stroke-width="2.0" transform="translate(86.0 1155.7) rotate(-90)" xml:space="preserve">Absorbance</text>
<text x="0" y="0" font-size="79.5" textLength="157.8" lengthAdjust="spacingAndGlyphs" stroke-width="2.0" transform="translate(86.0 737.0) rotate(-90)" xml:space="preserve">[arb.</text>
<text x="0" y="0" font-size="79.5" textLength="197.8" lengthAdjust="spacingAndGlyphs" stroke-width="2.0" transform="translate(86.0 563.6) rotate(-90)" xml:space="preserve">Units]</text>
<text x="538.8" y="141.0" font-size="79.5" textLength="388.0" lengthAdjust="spacingAndGlyphs" stroke-width="2.0" xml:space="preserve">experiment</text>
<text x="944.5" y="141.0" font-size="79.5" textLength="169.6" lengthAdjust="spacingAndGlyphs" stroke-width="2.0" xml:space="preserve">(TPS)</text>
<text x="536.0" y="263.9" font-size="79.5" textLength="170.2" lengthAdjust="spacingAndGlyphs" stroke-width="2.0" xml:space="preserve">1150</text>
<text x="535.9" y="353.8" font-size="79.5" textLength="169.8" lengthAdjust="spacingAndGlyphs" stroke-width="2.0" xml:space="preserve">1119</text>
<text x="536.0" y="446.2" font-size="79.5" textLength="170.2" lengthAdjust="spacingAndGlyphs" stroke-width="2.0" xml:space="preserve">1100</text>
<text x="536.4" y="540.1" font-size="79.5" textLength="169.1" lengthAdjust="spacingAndGlyphs" stroke-width="2.0" xml:space="preserve">1077</text>
<text x="536.3" y="632.4" font-size="79.5" textLength="170.0" lengthAdjust="spacingAndGlyphs" stroke-width="2.0" xml:space="preserve">1056</text>
<text x="536.3" y="721.4" font-size="79.5" textLength="168.7" lengthAdjust="spacingAndGlyphs" stroke-width="2.0" xml:space="preserve">1043</text>
<text x="535.2" y="806.9" font-size="79.5" textLength="168.8" lengthAdjust="spacingAndGlyphs" stroke-width="2.0" xml:space="preserve">1019</text>
<text x="538.0" y="897.1" font-size="79.5" textLength="127.4" lengthAdjust="spacingAndGlyphs" stroke-width="2.0" xml:space="preserve">995</text>
<text x="537.7" y="991.4" font-size="79.5" textLength="127.7" lengthAdjust="spacingAndGlyphs" stroke-width="2.0" xml:space="preserve">973</text>
<text x="945.9" y="304.3" font-size="79.5" textLength="122.8" lengthAdjust="spacingAndGlyphs" stroke-width="2.0" xml:space="preserve">TPS</text>
<text x="942.1" y="389.2" font-size="79.5" textLength="52.7" lengthAdjust="spacingAndGlyphs" stroke-width="2.0" xml:space="preserve">G</text>
<text x="1013.1" y="389.2" font-size="79.5" textLength="194.5" lengthAdjust="spacingAndGlyphs" stroke-width="2.0" xml:space="preserve">(70%)</text>
<text x="952.0" y="500.3" font-size="79.5" textLength="36.7" lengthAdjust="spacingAndGlyphs" stroke-width="2.0" xml:space="preserve">E</text>
<text x="1009.3" y="500.3" font-size="79.5" textLength="193.8" lengthAdjust="spacingAndGlyphs" stroke-width="2.0" xml:space="preserve">(40%)</text>
<text x="1425.7" y="96.0" font-size="71.8" textLength="151.7" lengthAdjust="spacingAndGlyphs" stroke-width="1.8" xml:space="preserve">1019</text>
<text x="1593.6" y="96.0" font-size="71.8" textLength="91.2" lengthAdjust="spacingAndGlyphs" stroke-width="1.8" xml:space="preserve">cm</text>
<text x="1683.2" y="74.5" font-size="48.4" textLength="55.4" lengthAdjust="spacingAndGlyphs" stroke-width="1.3" xml:space="preserve">−1</text>
<text x="1567.6" y="234.2" font-size="71.8" textLength="115.0" lengthAdjust="spacingAndGlyphs" stroke-width="1.8" xml:space="preserve">995</text>
<text x="1700.1" y="234.2" font-size="71.8" textLength="91.2" lengthAdjust="spacingAndGlyphs" stroke-width="1.8" xml:space="preserve">cm</text>
<text x="1788.9" y="213.3" font-size="48.4" textLength="55.3" lengthAdjust="spacingAndGlyphs" stroke-width="1.3" xml:space="preserve">−1</text>
<text x="1656.0" y="782.4" font-size="71.8" textLength="114.8" lengthAdjust="spacingAndGlyphs" stroke-width="1.8" xml:space="preserve">973</text>
<text x="1788.1" y="782.4" font-size="71.8" textLength="90.3" lengthAdjust="spacingAndGlyphs" stroke-width="1.8" xml:space="preserve">cm</text>
<text x="1876.5" y="761.4" font-size="48.4" textLength="55.0" lengthAdjust="spacingAndGlyphs" stroke-width="1.3" xml:space="preserve">−1</text>
</g>
</svg>
</body></html>
